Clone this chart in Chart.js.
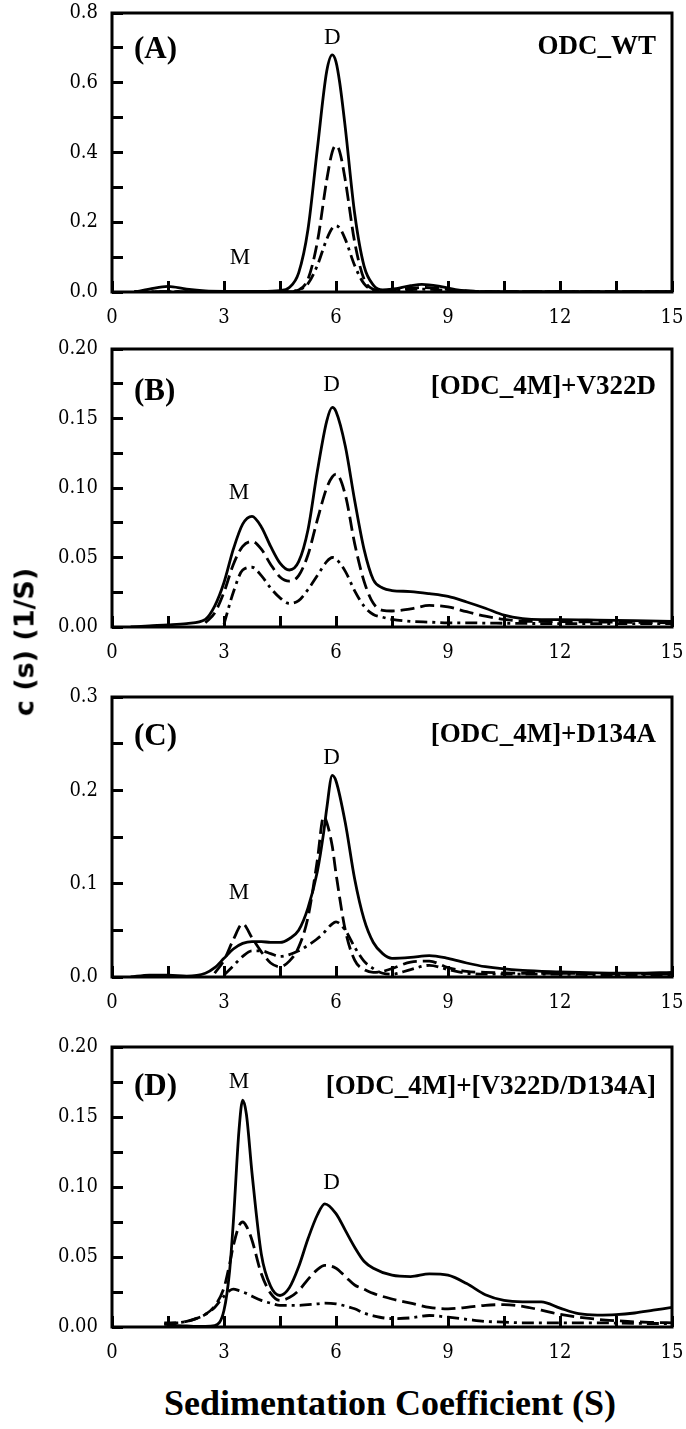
<!DOCTYPE html>
<html><head><meta charset="utf-8">
<script src="https://cdn.jsdelivr.net/npm/chart.js@4.4.0/dist/chart.umd.min.js"></script>
<style>
html,body{margin:0;padding:0;background:#fff;}
#wrap{position:relative;width:686px;height:1429px;overflow:hidden;background:#fff;}
canvas{position:absolute;left:0;}
#ytitle{position:absolute;left:24px;top:642px;transform:translate(-50%,-50%) rotate(-90deg);font:bold 27px "DejaVu Sans",sans-serif;white-space:nowrap;color:#000;}
#xtitle{position:absolute;left:390px;top:1403px;transform:translate(-50%,-50%);font:bold 36px "Liberation Serif",serif;white-space:nowrap;color:#000;}
</style></head>
<body><div id="wrap">
<canvas id="cA" width="686" height="332" style="top:0px"></canvas>
<canvas id="cB" width="686" height="331" style="top:336px"></canvas>
<canvas id="cC" width="686" height="333" style="top:684px"></canvas>
<canvas id="cD" width="686" height="333" style="top:1034px"></canvas>
<div id="ytitle">c (s) (1/S)</div>
<div id="xtitle">Sedimentation Coefficient (S)</div>
</div>
<script>
// ---------- data ----------
const xTickLabels = ['0', '3', '6', '9', '12', '15'];

const xA = [0.6, 1.0, 1.5, 2.0, 2.5, 3.0, 3.5, 4.0, 4.5, 4.75, 5.0, 5.25, 5.5, 5.75, 5.9, 6.0, 6.1, 6.25, 6.5, 6.75, 7.0, 7.25, 7.5, 8.0, 8.3, 8.75, 9.25, 9.75, 10.5, 11, 12, 13, 14, 15];
const A_solid = [0, 0.008, 0.016, 0.008, 0.003, 0.002, 0.002, 0.002, 0.004, 0.013, 0.055, 0.18, 0.41, 0.632, 0.68, 0.66, 0.60, 0.47, 0.225, 0.075, 0.02, 0.006, 0.008, 0.018, 0.022, 0.017, 0.006, 0.002, 0.001, 0.001, 0.001, 0.001, 0.001, 0.001];
const A_dash = [0.001, 0.001, 0.001, 0.001, 0.001, 0.001, 0.001, 0.001, 0.001, 0.002, 0.006, 0.037, 0.143, 0.32, 0.402, 0.42, 0.402, 0.32, 0.143, 0.037, 0.008, 0.004, 0.006, 0.011, 0.013, 0.01, 0.004, 0.002, 0.001, 0.001, 0.001, 0.001, 0.001, 0.001];
const A_dashdot = [0.001, 0.001, 0.001, 0.001, 0.001, 0.001, 0.001, 0.001, 0.001, 0.001, 0.006, 0.024, 0.076, 0.151, 0.183, 0.19, 0.183, 0.151, 0.076, 0.024, 0.006, 0.003, 0.004, 0.007, 0.008, 0.006, 0.003, 0.001, 0.001, 0.001, 0.001, 0.001, 0.001, 0.001];

const xB = [0.5, 1, 1.5, 2, 2.5, 2.75, 3, 3.25, 3.5, 3.75, 4, 4.25, 4.5, 4.75, 5, 5.25, 5.5, 5.75, 5.9, 6, 6.25, 6.5, 6.75, 7, 7.25, 7.5, 8, 8.5, 9, 9.5, 10, 10.5, 11, 11.5, 12, 13, 14, 15];
const B_solid = [0, 0.0008, 0.0015, 0.0025, 0.0055, 0.015, 0.032, 0.056, 0.074, 0.0796, 0.072, 0.058, 0.046, 0.041, 0.047, 0.07, 0.112, 0.148, 0.158, 0.155, 0.13, 0.091, 0.056, 0.034, 0.028, 0.0262, 0.0255, 0.024, 0.022, 0.018, 0.0135, 0.0085, 0.006, 0.0053, 0.0053, 0.005, 0.0046, 0.004];
const B_dash = [null, null, null, null, 0.003, 0.01, 0.025, 0.045, 0.058, 0.0616, 0.056, 0.045, 0.036, 0.033, 0.037, 0.052, 0.077, 0.1, 0.108, 0.11, 0.095, 0.06, 0.033, 0.017, 0.012, 0.0115, 0.013, 0.0155, 0.0145, 0.011, 0.0078, 0.0055, 0.0042, 0.004, 0.0038, 0.0036, 0.0034, 0.003];
const B_dashdot = [null, null, null, null, null, null, 0.002, 0.025, 0.041, 0.043, 0.037, 0.028, 0.021, 0.017, 0.019, 0.027, 0.037, 0.047, 0.05, 0.049, 0.04, 0.026, 0.015, 0.009, 0.007, 0.0055, 0.004, 0.0035, 0.003, 0.003, 0.0028, 0.0027, 0.0026, 0.0025, 0.0025, 0.0025, 0.0025, 0.0025];

const xC = [0.5, 1, 1.5, 2, 2.5, 2.75, 3, 3.25, 3.5, 3.75, 4, 4.25, 4.5, 4.75, 5, 5.25, 5.5, 5.67, 5.75, 5.9, 6, 6.25, 6.5, 6.75, 7, 7.25, 7.5, 8, 8.5, 9, 9.5, 10, 11, 12, 13, 14, 15];
const C_solid = [0, 0.002, 0.002, 0.001, 0.004, 0.01, 0.02, 0.03, 0.036, 0.038, 0.038, 0.037, 0.037, 0.041, 0.05, 0.074, 0.113, 0.155, 0.18, 0.216, 0.21, 0.165, 0.105, 0.062, 0.037, 0.025, 0.02, 0.021, 0.023, 0.02, 0.015, 0.011, 0.007, 0.0055, 0.0045, 0.004, 0.005];
const C_dash = [null, null, null, null, null, 0.004, 0.018, 0.04, 0.057, 0.042, 0.027, 0.015, 0.011, 0.017, 0.032, 0.064, 0.125, 0.172, 0.166, 0.14, 0.111, 0.05, 0.018, 0.008, 0.005, 0.006, 0.009, 0.016, 0.017, 0.01, 0.006, 0.005, 0.004, 0.004, 0.0035, 0.0035, 0.003];
const C_dashdot = [null, null, null, null, null, null, 0.002, 0.012, 0.022, 0.028, 0.028, 0.025, 0.022, 0.024, 0.028, 0.034, 0.041, 0.047, 0.051, 0.057, 0.059, 0.05, 0.032, 0.017, 0.009, 0.004, 0.003, 0.008, 0.0125, 0.008, 0.004, 0.003, 0.003, 0.003, 0.0025, 0.0025, 0.002];

const xD = [1.4, 1.75, 2, 2.25, 2.5, 2.75, 3, 3.15, 3.25, 3.4, 3.5, 3.6, 3.75, 4, 4.25, 4.5, 4.75, 5, 5.25, 5.5, 5.7, 6, 6.25, 6.5, 6.75, 7, 7.5, 8, 8.5, 9, 9.5, 10, 10.5, 11, 11.5, 12, 12.5, 13, 13.5, 14, 14.5, 15];
const D_solid = [0.002, 0.001, 0.0008, 0.0005, 0.0005, 0.001, 0.012, 0.04, 0.075, 0.14, 0.162, 0.152, 0.11, 0.052, 0.029, 0.0225, 0.028, 0.043, 0.063, 0.08, 0.088, 0.081, 0.069, 0.057, 0.047, 0.042, 0.037, 0.036, 0.038, 0.037, 0.031, 0.023, 0.019, 0.018, 0.018, 0.0135, 0.0095, 0.0085, 0.0088, 0.01, 0.012, 0.014];
const D_dash = [0.003, 0.003, 0.004, 0.006, 0.009, 0.015, 0.028, 0.045, 0.058, 0.072, 0.075, 0.072, 0.062, 0.038, 0.024, 0.019, 0.021, 0.026, 0.034, 0.041, 0.044, 0.042, 0.036, 0.03, 0.027, 0.024, 0.02, 0.017, 0.014, 0.013, 0.014, 0.0155, 0.016, 0.0148, 0.012, 0.009, 0.007, 0.0055, 0.0045, 0.0037, 0.0033, 0.003];
const D_dashdot = [0.002, 0.003, 0.004, 0.006, 0.009, 0.014, 0.022, 0.026, 0.027, 0.026, 0.025, 0.024, 0.022, 0.019, 0.017, 0.0155, 0.0155, 0.0155, 0.016, 0.0165, 0.017, 0.0165, 0.015, 0.013, 0.01, 0.008, 0.006, 0.0065, 0.0082, 0.007, 0.0055, 0.004, 0.0035, 0.003, 0.003, 0.003, 0.003, 0.003, 0.0028, 0.0026, 0.0025, 0.0025];

const yTicksA = ['0.0', '0.2', '0.4', '0.6', '0.8'];
const yTicksB = ['0.00', '0.05', '0.10', '0.15', '0.20'];
const yTicksC = ['0.0', '0.1', '0.2', '0.3'];
const yTicksD = ['0.00', '0.05', '0.10', '0.15', '0.20'];

const panelNames = ['ODC_WT', '[ODC_4M]+V322D', '[ODC_4M]+D134A', '[ODC_4M]+[V322D/D134A]'];
const panelLetters = ['(A)', '(B)', '(C)', '(D)'];

// ---------- drawing ----------
const SERIF = '"Liberation Serif", "DejaVu Serif", serif';
const TICKFONT = '"DejaVu Serif Condensed", "DejaVu Serif", serif';

const framePlugin = {
  id: 'frameText',
  afterDraw(chart, args, o) {
    const {ctx, chartArea: a, scales} = chart;
    ctx.save();
    ctx.lineWidth = 3;
    ctx.strokeStyle = '#000';
    ctx.strokeRect(a.left, a.top, a.right - a.left, a.bottom - a.top);
    ctx.fillStyle = '#000';
    ctx.textBaseline = 'middle';
    ctx.textAlign = 'left';
    ctx.font = 'bold 31px ' + SERIF;
    ctx.fillText(o.letter, a.left + 22, a.top + o.letterDy);
    ctx.textAlign = 'right';
    ctx.font = 'bold 27px ' + SERIF;
    ctx.fillText(o.name, a.right - 16, a.top + o.nameDy);
    ctx.textAlign = 'center';
    ctx.font = '23px ' + SERIF;
    o.peaks.forEach(p => {
      ctx.fillText(p.t, scales.x.getPixelForValue(p.x), scales.y.getPixelForValue(p.y));
    });
    ctx.restore();
  }
};

function pts(xs, ys) { return xs.map((x, i) => ({x: x, y: ys[i]})); }

function isMult(v, step) { const r = v / step; return Math.abs(r - Math.round(r)) < 1e-6; }

function makePanel(id, xs, s1, s2, s3, ymax, ystep, ylabels, letter, name, letterDy, nameDy, peaks) {
  const labStep = ymax / (ylabels.length - 1);
  const line = (data, dash) => ({
    data: pts(xs, data), borderColor: '#000', borderWidth: 2.8, borderDash: dash,
    pointRadius: 0, fill: false, cubicInterpolationMode: 'monotone', spanGaps: false
  });
  new Chart(document.getElementById(id), {
    type: 'line',
    data: { datasets: [line(s1, []), line(s2, [14, 6]), line(s3, [12, 5, 3, 5])] },
    options: {
      responsive: false, animation: false, devicePixelRatio: 1,
      layout: { padding: { top: 13, right: 14, left: 0, bottom: 0 } },
      plugins: { legend: { display: false }, tooltip: { enabled: false },
        frameText: { letter: letter, name: name, letterDy: letterDy, nameDy: nameDy, peaks: peaks } },
      scales: {
        x: {
          type: 'linear', min: 0, max: 15,
          border: { display: false },
          grid: { drawOnChartArea: false, drawTicks: true, tickLength: -11, tickWidth: 3, color: '#000' },
          ticks: { stepSize: 1.5, autoSkip: false, maxRotation: 0, padding: 25, color: '#000',
            font: { family: TICKFONT, size: 20 },
            callback: v => isMult(v, 3) ? xTickLabels[Math.round(v / 3)] : '' },
          afterFit: s => { s.height = 40; s.paddingLeft = 0; s.paddingRight = 0; }
        },
        y: {
          type: 'linear', min: 0, max: ymax,
          border: { display: false },
          grid: { drawOnChartArea: false, drawTicks: true, tickLength: -11, tickWidth: 3, color: '#000' },
          ticks: { stepSize: ystep, autoSkip: false, padding: 25, color: '#000',
            font: { family: TICKFONT, size: 20 },
            callback: v => isMult(v, labStep) ? ylabels[Math.round(v / labStep)] : '' },
          afterFit: s => { s.width = 112; s.paddingTop = 0; s.paddingBottom = 0; }
        }
      }
    },
    plugins: [framePlugin]
  });
}

makePanel('cA', xA, A_solid, A_dash, A_dashdot, 0.8, 0.1, yTicksA, panelLetters[0], panelNames[0], 37, 34,
  [{t: 'D', x: 5.9, y: 0.728}, {t: 'M', x: 3.43, y: 0.0975}]);
makePanel('cB', xB, B_solid, B_dash, B_dashdot, 0.2, 0.025, yTicksB, panelLetters[1], panelNames[1], 43, 38,
  [{t: 'D', x: 5.88, y: 0.174}, {t: 'M', x: 3.4, y: 0.0964}]);
makePanel('cC', xC, C_solid, C_dash, C_dashdot, 0.3, 0.05, yTicksC, panelLetters[2], panelNames[2], 40, 38,
  [{t: 'D', x: 5.88, y: 0.2346}, {t: 'M', x: 3.4, y: 0.09}]);
makePanel('cD', xD, D_solid, D_dash, D_dashdot, 0.2, 0.025, yTicksD, panelLetters[3], panelNames[3], 40, 40,
  [{t: 'M', x: 3.4, y: 0.175}, {t: 'D', x: 5.88, y: 0.103}]);
</script>
</body></html>
